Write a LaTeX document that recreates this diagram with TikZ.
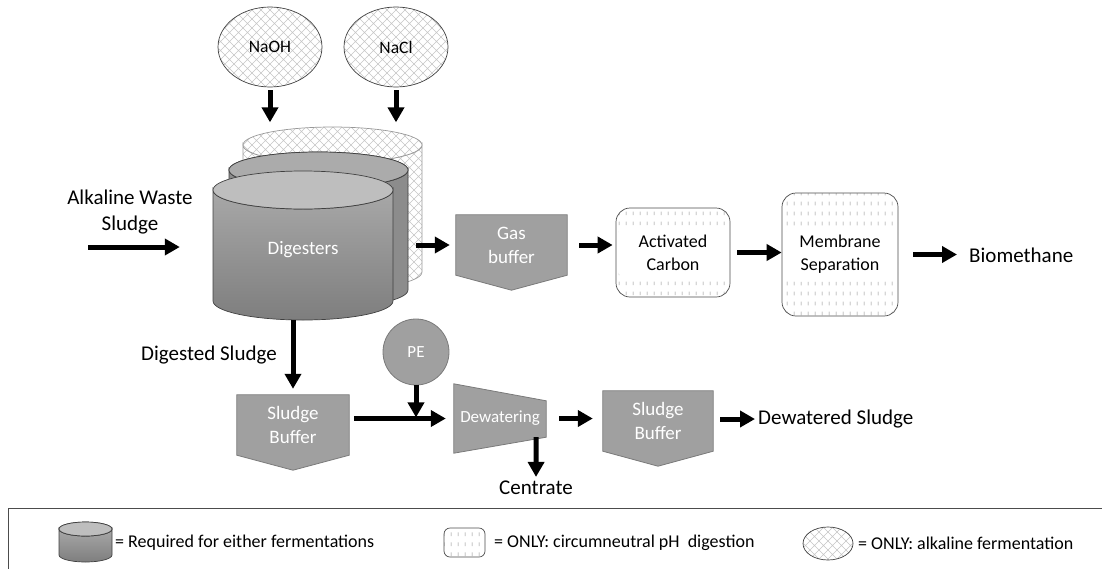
\documentclass[tikz,border=0pt]{standalone}
\usepackage{fontspec}
\setmainfont{Carlito}
\usetikzlibrary{arrows.meta,patterns,shapes.geometric,backgrounds,calc,positioning}

\definecolor{boxgray}{HTML}{A0A0A0}
\definecolor{edgegray}{HTML}{7A7A7A}
\definecolor{drumlid}{HTML}{BEBEBE}
\definecolor{drumhi}{HTML}{A8A8A8}
\definecolor{drumlo}{HTML}{7E7E7E}
\definecolor{drummid}{HTML}{8C8C8C}

\pgfdeclarepatternformonly{diamonds}{\pgfqpoint{-1pt}{-1pt}}{\pgfqpoint{10pt}{10pt}}{\pgfqpoint{9pt}{9pt}}{%
  \pgfsetlinewidth{0.6pt}%
  \pgfpathmoveto{\pgfqpoint{0pt}{0pt}}\pgfpathlineto{\pgfqpoint{9pt}{9pt}}%
  \pgfpathmoveto{\pgfqpoint{0pt}{9pt}}\pgfpathlineto{\pgfqpoint{9pt}{0pt}}%
  \pgfusepath{stroke}}
\pgfdeclarepatternformonly{vdashes}{\pgfqpoint{0pt}{0pt}}{\pgfqpoint{7pt}{10pt}}{\pgfqpoint{7pt}{10pt}}{%
  \pgfsetlinewidth{0.6pt}%
  \pgfpathmoveto{\pgfqpoint{3.5pt}{3pt}}\pgfpathlineto{\pgfqpoint{3.5pt}{7pt}}%
  \pgfusepath{stroke}}

\newcommand{\boxfont}{\fontsize{18}{23}\selectfont}
\newcommand{\buffont}{\fontsize{19}{24}\selectfont}
\newcommand{\lblfont}{\fontsize{21}{26}\selectfont}
\newcommand{\keyfont}{\fontsize{18}{22}\selectfont}

% cylinder: centre x, top y, bottom y, x radius, y radius, style
\newcommand{\drum}[6]{%
  \path[#6] (#1-#4,#2) -- (#1-#4,#3) arc[start angle=180,end angle=0,x radius=#4,y radius=#5]
    -- (#1+#4,#2) arc[start angle=0,end angle=180,x radius=#4,y radius=#5] -- cycle;
  \path[#6] (#1,#2) ellipse[x radius=#4,y radius=#5];}

\tikzset{
  arr/.style={line width=5pt,-{Triangle[length=15pt,width=16pt]}},
  lbl/.style={inner sep=0pt,font=\lblfont,align=center},
  key/.style={inner sep=0pt,font=\keyfont,anchor=west},
  buf/.style={minimum width=111pt,minimum height=60pt,inner sep=0pt,text=white,align=center,font=\buffont},
  bufshape/.style={fill=boxgray,draw=edgegray,line width=0.8pt},
  blob/.style={ellipse,draw=black!75,line width=0.7pt,preaction={fill=white},pattern=diamonds,pattern color=gray!45,
    minimum width=104pt,minimum height=80pt,inner sep=0pt,font=\fontsize{17.5}{20}\selectfont},
  rbox/.style={rectangle,rounded corners=14pt,draw=black!70,line width=0.7pt,preaction={fill=white},
    pattern=vdashes,pattern color=black!45,inner sep=0pt,align=center,font=\boxfont},
  band/.style={path picture={\fill[white] ([yshift=-27pt]path picture bounding box.west)
    rectangle ([yshift=27pt]path picture bounding box.east);}}
}

\begin{document}
\begin{tikzpicture}[x=1pt,y=-1pt]
\useasboundingbox (0,0) rectangle (1102,568);
\clip (0,0) rectangle (1102,568);

% digesters
\drum{332.5}{145}{272}{89.5}{18}{draw=gray!80,line width=0.7pt,preaction={fill=white},pattern=diamonds,pattern color=gray!45}
\drum{318.5}{170}{290}{89.5}{18}{draw=black!75,line width=0.7pt,fill=drummid}
\draw[draw=black!75,line width=0.7pt,fill=drumlid!90!black] (318.5,170) ellipse[x radius=89.5,y radius=18];
\path[draw=black!75,line width=0.7pt,top color=drumhi,bottom color=drumlo] (213,190) -- (213,301)
  arc[start angle=180,end angle=0,x radius=90,y radius=19] -- (393,190)
  arc[start angle=0,end angle=180,x radius=90,y radius=19] -- cycle;
\draw[draw=black!75,line width=0.7pt,fill=drumlid] (303,190) ellipse[x radius=90,y radius=19];
\node[inner sep=0pt,minimum width=180pt,minimum height=100pt,text=white,font=\buffont] (dig) at (303,250) {Digesters};
\coordinate (drumback) at (416,245);
\coordinate (drumbot) at (293,320);
\coordinate (feed) at (88,247);

\node[blob] (naoh) at (270,47) {NaOH};
\node[blob] (nacl) at (396,47) {NaCl};

\node[lbl] (alk) at (130,212) {Alkaline Waste\\Sludge};

% gas line
\node[buf] (gasbuf) at (511.5,245) {Gas\\buffer};
\node[rbox,band,minimum width=114pt,minimum height=89pt] (ac) at (673,252.5) {Activated\\Carbon};
\node[rbox,band,minimum width=116pt,minimum height=123pt] (ms) at (840,254.5) {Membrane\\Separation};
\node[lbl,anchor=west] (bio) at (969,255) {Biomethane};

% sludge line
\node[lbl,anchor=east] (dsl) at (277,355) {Digested Sludge};
\node[buf,minimum width=112pt] (sb1) at (293,425) {Sludge\\Buffer};
\node[circle,fill=boxgray,draw=edgegray,line width=0.8pt,minimum size=66pt,inner sep=0pt,text=white,font=\fontsize{17}{20}\selectfont] (pe) at (416,352) {PE};
\node[inner sep=0pt,minimum width=92pt,minimum height=69pt,text=white,font=\fontsize{17}{20}\selectfont] (dew) at (500,418.5) {Dewatering};
\node[lbl] (cen) at (536,488) {Centrate};
\node[buf,minimum width=110pt] (sb2) at (658,421) {Sludge\\Buffer};
\node[lbl,anchor=west] (dws) at (758,419) {Dewatered Sludge};

\begin{scope}[on background layer]
  \foreach \b in {gasbuf,sb1,sb2}
    \draw[bufshape] (\b.north west) -- (\b.north east) -- (\b.south east) -- ($(\b.south)+(0,15)$) -- (\b.south west) -- cycle;
  \draw[bufshape] (dew.north west) -- ($(dew.north east)+(0,17)$) -- ($(dew.south east)+(0,-16)$) -- (dew.south west) -- cycle;
\end{scope}

% arrows
\draw[arr,shorten <=3pt] (naoh.south) -- ++(0,35);
\draw[arr,shorten <=3pt] (nacl.south) -- ++(0,35);
\draw[arr,shorten >=33pt] (feed) -- (feed -| dig.west);
\draw[arr,shorten >=6pt] (drumback) -- (drumback -| gasbuf.west);
\draw[arr,shorten <=12pt,shorten >=3pt] (gasbuf.east) -- (gasbuf.east -| ac.west);
\draw[arr,shorten <=7pt] (ac.east) -- (ac.east -| ms.west);
\draw[arr,shorten <=15pt,shorten >=12pt] (ms.east) -- (ms.east -| bio.west);
\draw[arr,shorten >=6pt] (drumbot) -- (sb1.north);
\draw[arr,shorten <=5pt,shorten >=8pt] (dew.west -| sb1.east) -- (dew.west);
\draw[arr] (pe.south) -- ++(0,32);
\draw[arr] ($(dew.south east)+(-10,-16)$) -- ($(cen.north)+(0,-4)$);
\draw[arr,shorten <=13pt,shorten >=10pt] (dew.east) -- (dew.east -| sb2.west);
\draw[arr,shorten <=7pt,shorten >=3pt] (dws.west -| sb2.east) -- (dws.west);

% key
\draw[draw=black!70,line width=1pt] (8,508) rectangle (1130,590);
\drum{85.5}{529}{555}{26.5}{7}{draw=black!75,line width=0.7pt,top color=drumhi,bottom color=drumlo}
\draw[draw=black!75,line width=0.7pt,fill=drumlid] (85.5,529) ellipse[x radius=26.5,y radius=7];
\node[key] (k1) at (115,543) {= Required for either fermentations};
\node[rbox,rounded corners=6pt,minimum width=41pt,minimum height=29pt] (k2box) at (464.5,542.5) {};
\node[key] (k2) at (494,543) {= ONLY: circumneutral pH~ digestion};
\node[blob,minimum width=50pt,minimum height=33pt] (k3box) at (828,543.5) {};
\node[key] (k3) at (858,543) {= ONLY: alkaline fermentation};
\end{tikzpicture}
\end{document}
